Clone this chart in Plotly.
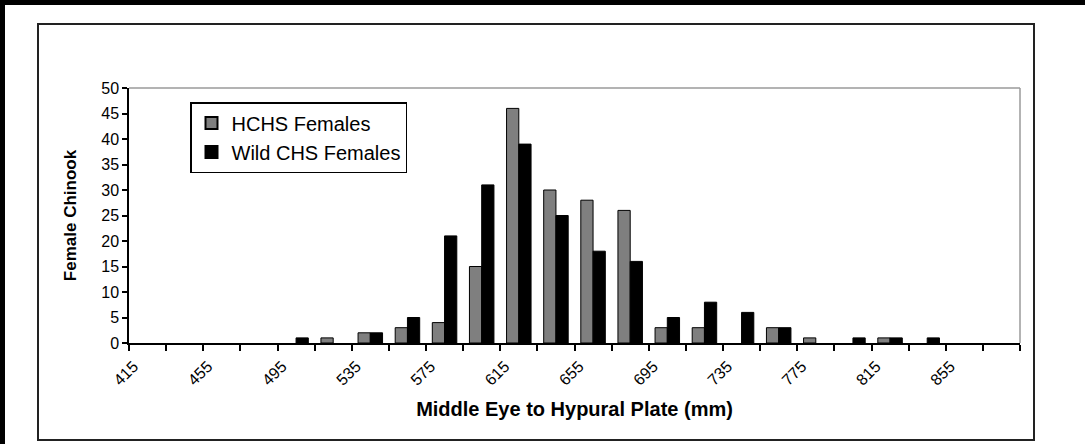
import plotly.graph_objects as go

# Data
length_bins = [415, 435, 455, 475, 495, 515, 535, 555, 575, 595, 615, 635,
               655, 675, 695, 715, 735, 755, 775, 795, 815, 835, 855, 875]
hchs_females = [0, 0, 0, 0, 0, 1, 2, 3, 4, 15, 46, 30,
                28, 26, 3, 3, 0, 3, 1, 0, 1, 0, 0, 0]
wild_chs_females = [0, 0, 0, 0, 1, 0, 2, 5, 21, 31, 39, 25,
                    18, 16, 5, 8, 6, 3, 0, 1, 1, 1, 0, 0]
tick_labels = [str(v) if i % 2 == 0 else "" for i, v in enumerate(length_bins)]

cats = [str(v) for v in length_bins]

W, H = 1085, 444
L, R, T, B = 129, 1020, 88, 343  # plot area in pixels


def px(x):
    return (x - L) / (R - L)


def py(y):
    return (B - y) / (B - T)


FONT = "Liberation Sans, Arial, sans-serif"

fig = go.Figure()
fig.add_trace(go.Bar(
    x=cats, y=hchs_females, name="HCHS Females",
    marker=dict(color="#7f7f7f",
                line=dict(color="#000000", width=[1 if v > 0 else 0 for v in hchs_females])),
))
fig.add_trace(go.Bar(
    x=cats, y=wild_chs_females, name="Wild CHS Females",
    marker=dict(color="#000000",
                line=dict(color="#000000", width=[1 if v > 0 else 0 for v in wild_chs_females])),
))

shapes = [
    # outer black frame bands
    dict(type="rect", xref="paper", yref="paper", x0=px(0), x1=px(W), y0=py(0), y1=py(5),
         fillcolor="#000000", line=dict(width=0), layer="above"),
    dict(type="rect", xref="paper", yref="paper", x0=px(0), x1=px(5), y0=py(0), y1=py(H),
         fillcolor="#000000", line=dict(width=0), layer="above"),
    # chart area border
    dict(type="rect", xref="paper", yref="paper", x0=px(38), x1=px(1034), y0=py(24), y1=py(440),
         line=dict(color="#222222", width=2), layer="below"),
    # plot area top and right border
    dict(type="line", xref="x domain", yref="y domain", x0=0, x1=1, y0=1, y1=1,
         line=dict(color="#9a9a9a", width=1.5)),
    dict(type="line", xref="x domain", yref="y domain", x0=1, x1=1, y0=0, y1=1,
         line=dict(color="#9a9a9a", width=1.5)),
]

fig.update_layout(
    width=W, height=H,
    margin=dict(l=L, r=W - R, t=T, b=H - B, autoexpand=False),
    paper_bgcolor="#ffffff", plot_bgcolor="#ffffff",
    barmode="group", bargap=0.34, bargroupgap=0,
    font=dict(family=FONT, color="#000000", size=14),
    showlegend=True,
    legend=dict(
        x=px(190), y=py(102), xanchor="left", yanchor="top",
        bordercolor="#000000", borderwidth=1.5, bgcolor="#ffffff",
        font=dict(family=FONT, size=20, color="#000000"),
        tracegroupgap=2, itemsizing="constant",
    ),
    shapes=shapes,
    xaxis=dict(
        type="category", tickmode="array", tickvals=cats, ticktext=tick_labels,
        tickson="boundaries", ticks="outside", ticklen=6, tickwidth=1.5, tickcolor="#000000",
        showline=True, linecolor="#000000", linewidth=1.5, showgrid=False,
        tickangle=-45, tickfont=dict(family=FONT, size=16, color="#000000"),
        ticklabelstandoff=6, ticklabelshift=-14,
        title=dict(text="<b>Middle Eye to Hypural Plate (mm)</b>",
                   font=dict(family=FONT, size=20, color="#000000"), standoff=14),
        automargin=False,
    ),
    yaxis=dict(
        range=[0, 50], dtick=5, ticks="outside", ticklen=5, tickwidth=1.5, tickcolor="#000000",
        showline=True, linecolor="#000000", linewidth=1.5, showgrid=False, zeroline=False,
        tickfont=dict(family=FONT, size=16, color="#000000"),
        title=dict(text="<b>Female Chinook</b>",
                   font=dict(family=FONT, size=17, color="#000000"), standoff=20),
        automargin=False,
    ),
)

fig.write_html("out.html", config={"displayModeBar": False},
               post_script="document.body.style.margin='0';document.body.style.padding='0';")
